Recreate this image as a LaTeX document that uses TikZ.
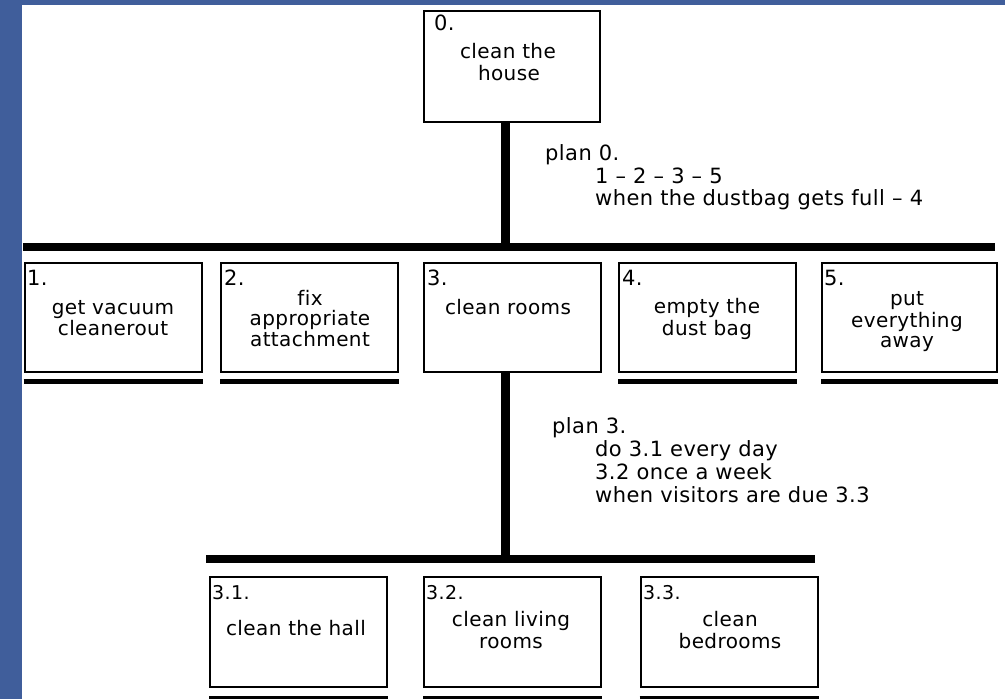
\documentclass[tikz,border=0pt]{standalone}
\usepackage{fontspec}
\setmainfont[LetterSpace=2,Ligatures=NoCommon]{DejaVu Sans}
\definecolor{frameblue}{RGB}{64,94,155}
\begin{document}
\begin{tikzpicture}[x=1pt,y=-1pt,
  box/.style={draw=black, line width=2pt, fill=white, minimum width=177pt, inner sep=0pt},
  toprow/.style={box, minimum height=109pt},
  lowrow/.style={box, minimum height=110pt},
  bar/.style={line width=8pt},
  stem/.style={line width=9pt},
  uline/.style={line width=4.5pt},
  txt/.style={anchor=base, inner sep=0pt, font=\fontsize{20}{20}\selectfont},
  num/.style={anchor=base west, inner sep=0pt, font=\fontsize{21}{21}\selectfont},
  numsmall/.style={anchor=base west, inner sep=0pt, font=\fontsize{19}{19}\selectfont},
  plan/.style={anchor=base west, inner sep=0pt, font=\fontsize{21}{21}\selectfont}]

% page: blue frame on the left and top, white sheet
\fill[frameblue] (0,0) rectangle (1005,699);
\fill[white] (21.5,5) rectangle (1005,699);
\useasboundingbox (0,0) rectangle (1005,699);

% ---- level 0 ----
\node[box, minimum width=176pt, minimum height=111pt] (b0) at (512,66.5) {};
\node[num] (n0) at (434,30) {0.};
\node[txt] (t0a) at (508,58) {clean the};
\node[txt] (t0b) at (509,80) {house};

% plan 0
\node[plan] (p0a) at (545,160) {plan 0.};
\node[plan] (p0b) at (595,183) {1 – 2 – 3 – 5};
\node[plan] (p0c) at (595,205) {when the dustbag gets full – 4};

% ---- level 1 ----
\node[toprow] (b1) at (113,317.5) {};
\node[toprow] (b2) at (309.5,317.5) {};
\node[toprow] (b3) at (512.5,317.5) {};
\node[toprow] (b4) at (707.5,317.5) {};
\node[toprow, minimum width=175pt] (b5) at (909.5,317.5) {};

\node[num] (n1) at (27,285) {1.};
\node[num] (n2) at (224,285) {2.};
\node[num] (n3) at (427,285) {3.};
\node[num] (n4) at (622,285) {4.};
\node[num] (n5) at (824,285) {5.};

\node[txt] (t1a) at (113,314) {get vacuum};
\node[txt] (t1b) at (113,335) {cleanerout};
\node[txt] (t2a) at (310,305) {fix};
\node[txt] (t2b) at (310,325) {appropriate};
\node[txt] (t2c) at (310,346) {attachment};
\node[txt] (t3a) at (508,314) {clean rooms};
\node[txt] (t4a) at (707,313) {empty the};
\node[txt] (t4b) at (707,335) {dust bag};
\node[txt] (t5a) at (907,305) {put};
\node[txt] (t5b) at (907,327) {everything};
\node[txt] (t5c) at (907,347) {away};

% plan 3
\node[plan] (p3a) at (552,433) {plan 3.};
\node[plan] (p3b) at (595,456) {do 3.1 every day};
\node[plan] (p3c) at (595,479) {3.2 once a week};
\node[plan] (p3d) at (595,502) {when visitors are due 3.3};

% ---- level 2 ----
\node[lowrow] (b31) at (298.5,632) {};
\node[lowrow] (b32) at (512.5,632) {};
\node[lowrow] (b33) at (729,632) {};

\node[numsmall] (n31) at (212,599) {3.1.};
\node[numsmall] (n32) at (426,599) {3.2.};
\node[numsmall] (n33) at (643,599) {3.3.};

\node[txt] (t31a) at (296,635) {clean the hall};
\node[txt] (t32a) at (511,626) {clean living};
\node[txt] (t32b) at (511,648) {rooms};
\node[txt] (t33a) at (730,626) {clean};
\node[txt] (t33b) at (730,648) {bedrooms};

% ---- connectors ----
\coordinate (bar1L) at (23,247);
\coordinate (bar1R) at (995,247);
\coordinate (j0) at (505,247);
\coordinate (bar2L) at (206,559);
\coordinate (bar2R) at (815,559);
\coordinate (j3) at (505,559);

\draw[stem] (j0 |- b0.south) -- (j0);
\draw[bar] (bar1L) -- (bar1R);
\draw[stem] (j3 |- b3.south) -- (j3);
\draw[bar] (bar2L) -- (bar2R);

% underlines mark the tasks that are not broken down further
\foreach \b in {b1,b2,b4,b5}
  \draw[uline] ([yshift=-8.5pt]\b.south west) -- ([yshift=-8.5pt]\b.south east);
\foreach \b in {b31,b32,b33}
  \draw[uline] ([yshift=-10pt]\b.south west) -- ([yshift=-10pt]\b.south east);
\end{tikzpicture}
\end{document}
